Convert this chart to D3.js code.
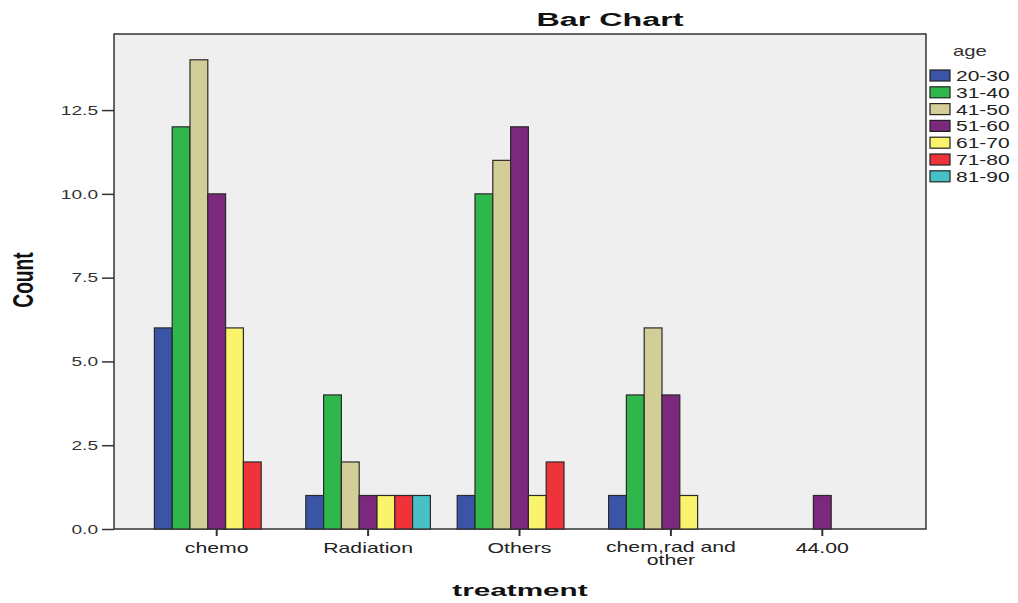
<!DOCTYPE html>
<html><head><meta charset="utf-8">
<script src="https://cdn.jsdelivr.net/npm/d3@7"></script>
<style>body{margin:0;background:#fff}svg{display:block}text{font-family:"Liberation Sans",Arial,sans-serif}</style>
</head><body><svg id="c" width="1018" height="603"></svg>
<script>
const categories = ["chemo","Radiation","Others","chem,rad and other","44.00"];
const ageGroups = ["20-30","31-40","41-50","51-60","61-70","71-80","81-90"];
const colors = ["#3a55a6","#2fb74b","#d3cd97","#7b287d","#f9f46c","#ee333b","#47c1c6"];
const counts = {
  "20-30": [6,1,1,1,0],
  "31-40": [12,4,10,4,0],
  "41-50": [14,2,11,6,0],
  "51-60": [10,1,12,4,1],
  "61-70": [6,1,1,1,0],
  "71-80": [2,1,2,0,0],
  "81-90": [0,1,0,0,0]
};
const yTicks = [0,2.5,5,7.5,10,12.5];

const svg = d3.select("#c");
const L=114,R=926,T=34,B=529;
svg.append("rect").attr("x",L).attr("y",T).attr("width",R-L).attr("height",B-T).attr("fill","#efefef").attr("stroke","#333").attr("stroke-width",1.5);

const x = d3.scaleBand().domain(categories).range([141,898]);
const xi = d3.scaleBand().domain(ageGroups).range([0,124.6]);
const y = d3.scaleLinear().domain([0,14.77]).range([B,T]);

const data=[];
categories.forEach((c,ci)=>ageGroups.forEach(a=>{const v=counts[a][ci]; if(v>0) data.push({c,a,v});}));
const off=(x.bandwidth()-xi.range()[1])/2;
svg.append("g").selectAll("rect").data(data).join("rect")
  .attr("x",d=>x(d.c)+off+xi(d.a)).attr("width",xi.bandwidth())
  .attr("y",d=>y(d.v)).attr("height",d=>B-y(d.v))
  .attr("fill",d=>colors[ageGroups.indexOf(d.a)]).attr("stroke","#2a2a2a").attr("stroke-width",1.2);

// y axis
const ya = svg.append("g").attr("transform",`translate(${L},0)`).call(d3.axisLeft(y).tickValues(yTicks).tickFormat(d3.format(".1f")).tickSize(12).tickSizeOuter(0));
ya.select(".domain").remove();
ya.selectAll("line").attr("stroke","#333").attr("stroke-width",1.5);
ya.selectAll("text").attr("font-size",13).attr("fill","#333").attr("x",0).attr("transform","translate(-16,0) scale(1.47,1)");

// x axis
const xa = svg.append("g").attr("transform",`translate(0,${B})`).call(d3.axisBottom(x).tickSize(7).tickSizeOuter(0));
xa.select(".domain").remove();
xa.selectAll("line").attr("stroke","#333").attr("stroke-width",2);
xa.selectAll("text").attr("font-size",14).attr("fill","#222").attr("y",0).attr("dy",null).attr("transform","translate(0,24) scale(1.52,1)")
  .each(function(d){
    if(d==="chem,rad and other"){
      const t=d3.select(this); t.text(null);
      t.append("tspan").attr("x",0).attr("y",-1).text("chem,rad and");
      t.append("tspan").attr("x",0).attr("y",12.5).text("other");
    }
  });

svg.append("text").attr("text-anchor","middle").attr("font-size",19).attr("font-weight","bold").attr("fill","#111")
  .attr("transform","translate(610,26) scale(1.7,1)").text("Bar Chart");
svg.append("text").attr("text-anchor","middle").attr("font-size",16.5).attr("font-weight","bold").attr("fill","#111")
  .attr("transform","translate(520,596) scale(1.8,1)").text("treatment");
svg.append("text").attr("text-anchor","middle").attr("font-size",30).attr("font-weight","bold").attr("fill","#111")
  .attr("transform","translate(33,280) rotate(-90) scale(0.64,1)").text("Count");

// legend
const lg = svg.append("g");
lg.append("text").attr("font-size",14).attr("fill","#333").attr("transform","translate(953,56) scale(1.45,1)").text("age");
ageGroups.forEach((a,i)=>{
  const yy=70+i*16.8;
  lg.append("rect").attr("x",930).attr("y",yy).attr("width",20).attr("height",11).attr("fill",colors[i]).attr("stroke","#222").attr("stroke-width",1.2);
  lg.append("text").attr("font-size",14).attr("fill","#222").attr("transform",`translate(956,${yy+11}) scale(1.5,1)`).text(a);
});
</script></body></html>
